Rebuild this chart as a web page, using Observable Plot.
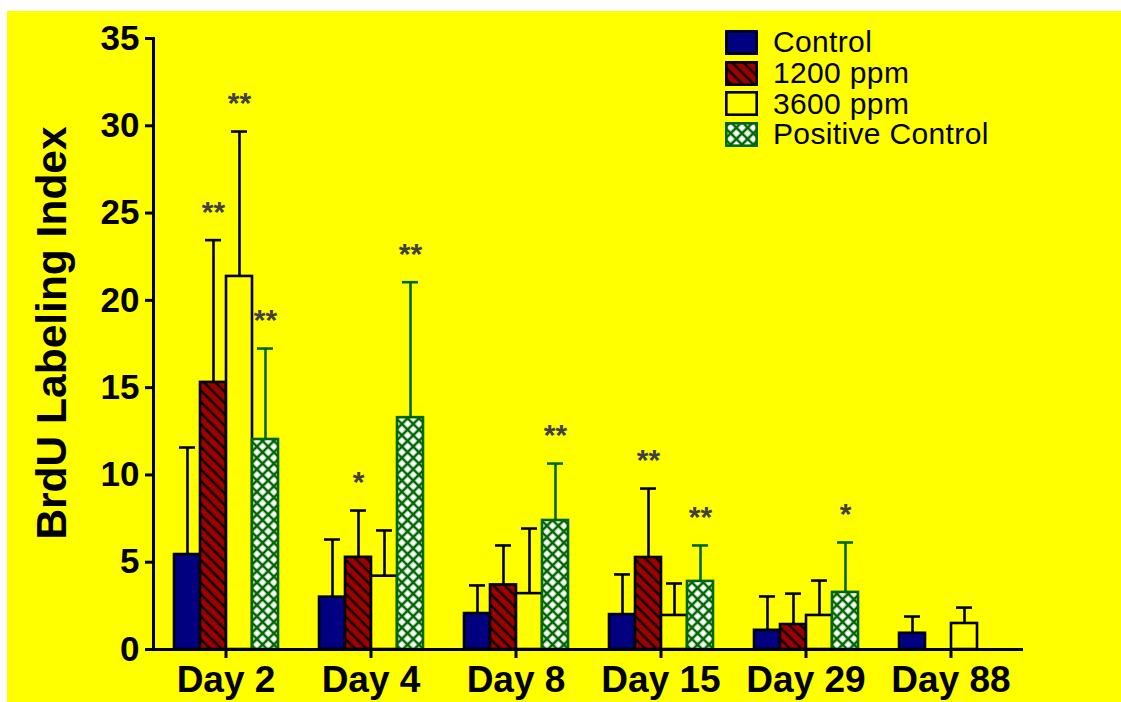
<!DOCTYPE html>
<html>
<head>
<meta charset="utf-8">
<script src="https://cdn.jsdelivr.net/npm/d3@7"></script>
<script src="https://cdn.jsdelivr.net/npm/@observablehq/plot@0.6"></script>
<style>
  body { margin: 0; background: #ffffff; font-family: "Liberation Sans", Arial, sans-serif; }
  #wrap { position: absolute; left: 7px; top: 11px; width: 1114px; height: 691px; background: #ffff00; overflow: hidden; }
  #chart { position: absolute; left: 0; top: 0; }
  #ytitle { position: absolute; left: 45px; top: 322px; transform: translate(-50%, -50%) rotate(-90deg);
            white-space: nowrap; font-weight: bold; font-size: 42.5px; color: #000; }
  #legend { position: absolute; left: 718px; top: 16px; }
  .lrow { display: flex; align-items: center; height: 30.7px; }
  .lrow svg { flex: none; }
  .lrow span { margin-left: 15px; font-size: 30px; letter-spacing: 0.35px; color: #000; line-height: 1; }
</style>
</head>
<body>
<svg width="0" height="0" style="position:absolute">
  <defs>
    <pattern id="hatch1200" patternUnits="userSpaceOnUse" width="8" height="8" patternTransform="rotate(45)">
      <rect width="8" height="8" fill="#a00000"></rect>
      <line x1="0" y1="4" x2="8" y2="4" stroke="#000" stroke-width="2.4"></line>
    </pattern>
    <pattern id="xhatch" patternUnits="userSpaceOnUse" width="8" height="8" patternTransform="rotate(45)">
      <rect width="8" height="8" fill="#ffffff"></rect>
      <path d="M0 4H8M4 0V8" stroke="#006600" stroke-width="2.6"></path>
    </pattern>
  </defs>
</svg>
<div id="wrap">
  <div id="chart"></div>
  <div id="ytitle">BrdU Labeling Index</div>
  <div id="legend"></div>
</div>
<script>
// ---- data ----
const days = ["Day 2", "Day 4", "Day 8", "Day 15", "Day 29", "Day 88"];
const series = ["Control", "1200 ppm", "3600 ppm", "Positive Control"];
const controlMean  = [5.44, 3.0, 2.06, 2.0, 1.1, 0.93];
const controlSD    = [6.13, 3.3, 1.61, 2.3, 1.94, 0.96];
const ppm1200Mean  = [15.3, 5.28, 3.7, 5.27, 1.43, null];
const ppm1200SD    = [8.15, 2.68, 2.26, 3.95, 1.77, null];
const ppm3600Mean  = [21.37, 4.2, 3.2, 1.95, 1.95, 1.49];
const ppm3600SD    = [8.3, 2.62, 3.73, 1.83, 2.0, 0.91];
const positiveMean = [12.03, 13.28, 7.39, 3.9, 3.27, null];
const positiveSD   = [5.21, 7.76, 3.26, 2.06, 2.86, null];
const control_sig  = ["", "", "", "", "", ""];
const ppm1200_sig  = ["**", "*", "", "**", "", ""];
const ppm3600_sig  = ["**", "", "", "", "", ""];
const positive_sig = ["**", "**", "**", "**", "*", ""];
const yTicks = [0, 5, 10, 15, 20, 25, 30, 35];

// ---- styles ----
const fills   = ["#000080", "url(#hatch1200)", "#ffff00", "url(#xhatch)"];
const strokes = ["#000000", "#000000", "#000000", "#006600"];

const means = [controlMean, ppm1200Mean, ppm3600Mean, positiveMean];
const sds = [controlSD, ppm1200SD, ppm3600SD, positiveSD];
const sigs = [control_sig, ppm1200_sig, ppm3600_sig, positive_sig];

const rows = [];
days.forEach((day, i) => {
  series.forEach((s, j) => {
    const m = means[j][i];
    if (m == null) return;
    rows.push({day, series: s, mean: m, upper: m + sds[j][i], sig: sigs[j][i], k: j});
  });
});
const fillOf = d => fills[d.k];
const strokeOf = d => strokes[d.k];

const chart = Plot.plot({
  width: 1114,
  height: 691,
  marginLeft: 145,
  marginRight: 98,
  marginTop: 27,
  marginBottom: 53,
  style: {background: "#ffff00", fontFamily: "'Liberation Sans', Arial, sans-serif", color: "#000", overflow: "visible"},
  fx: {domain: days, padding: 0, label: null},
  x: {domain: series, paddingInner: 0, paddingOuter: 0.74, axis: null},
  y: {domain: [0, 35], label: null},
  color: {type: "identity"},
  marks: [
    Plot.axisY({ticks: yTicks, tickSize: 8, tickPadding: 6, fontSize: 35, fontWeight: "bold", strokeWidth: 3, label: null}),
    Plot.frame({anchor: "left", facetAnchor: "left", strokeWidth: 3}),
    Plot.axisFx({anchor: "bottom", tickSize: 9, tickPadding: 7, fontSize: 37, fontWeight: "bold", strokeWidth: 3, label: null}),
    Plot.barY(rows, {fx: "day", x: "series", y: "mean", fill: fillOf, stroke: strokeOf, strokeWidth: 2.6}),
    Plot.ruleX(rows, {fx: "day", x: "series", y1: "mean", y2: "upper", stroke: strokeOf, strokeWidth: 2.6}),
    Plot.tickY(rows, {fx: "day", x: "series", y: "upper", stroke: strokeOf, strokeWidth: 2.6, insetLeft: 5, insetRight: 5}),
    Plot.text(rows.filter(d => d.sig), {fx: "day", x: "series", y: "upper", text: "sig", dy: -28, fontSize: 30, fontWeight: "bold", fill: "#404040"}),
    Plot.ruleY([0], {strokeWidth: 3})
  ]
});
document.getElementById("chart").appendChild(chart);

// ---- legend ----
const legend = document.getElementById("legend");
series.forEach((s, j) => {
  const row = document.createElement("div");
  row.className = "lrow";
  row.innerHTML = `<svg width="33" height="25"><rect x="1.3" y="1.3" width="30.4" height="22.4" fill="${fills[j]}" stroke="${strokes[j]}" stroke-width="2.6"></rect></svg><span>${s}</span>`;
  legend.appendChild(row);
});
</script>
</body>
</html>
